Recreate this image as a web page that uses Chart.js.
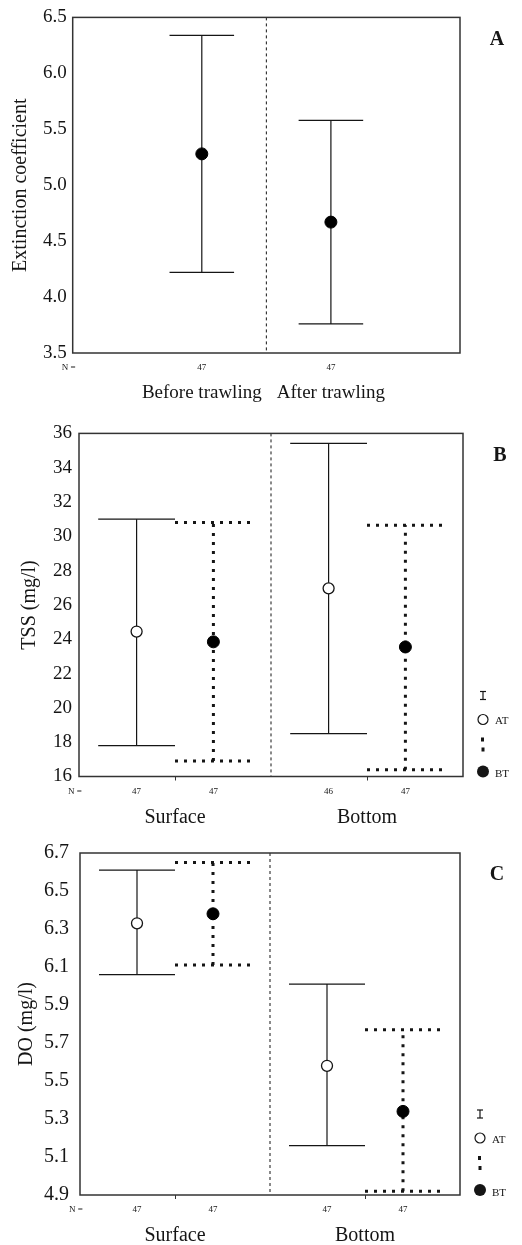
<!DOCTYPE html>
<html>
<head>
<meta charset="utf-8">
<script src="https://cdn.jsdelivr.net/npm/chart.js@4"></script>
<style>
  body { margin: 0; background: #fff; }
  #wrap { position: relative; width: 522px; height: 1245px; }
  canvas { position: absolute; left: 0; }
</style>
</head>
<body>
<div id="wrap">
  <canvas id="chartA" width="522" height="410" style="top:0px"></canvas>
  <canvas id="chartB" width="522" height="415" style="top:415px"></canvas>
  <canvas id="chartC" width="522" height="415" style="top:830px"></canvas>
</div>
<script>
const SERIF = '"Liberation Serif", "Times New Roman", serif';
const INK = '#151515';

// Panel A - extinction coefficient
const trawlCats = ['Before trawling', 'After trawling'];
const extN = [47, 47];
const extMean = [5.28, 4.67];
const extLow = [4.22, 3.76];
const extHigh = [6.34, 5.58];
const yTicksA = [3.5, 4.0, 4.5, 5.0, 5.5, 6.0, 6.5];

// Panels B and C share the depth groups
const depths = ['Surface', 'Bottom'];

// Panel B - TSS (mg/l)
const tssAT = [24.45, 26.97];
const tssATLow = [17.8, 18.5];
const tssATHigh = [31.0, 35.42];
const tssBT = [23.85, 23.55];
const tssBTLow = [16.9, 16.4];
const tssBTHigh = [30.8, 30.65];
const tssNAT = [47, 46];
const tssNBT = [47, 47];
const yTicksB = [16, 18, 20, 22, 24, 26, 28, 30, 32, 34, 36];

// Panel C - DO (mg/l)
const doAT = [6.33, 5.58];
const doATLow = [6.06, 5.16];
const doATHigh = [6.61, 6.01];
const doBT = [6.38, 5.34];
const doBTLow = [6.11, 4.92];
const doBTHigh = [6.65, 5.77];
const doNAT = [47, 47];
const doNBT = [47, 47];
const yTicksC = [4.9, 5.1, 5.3, 5.5, 5.7, 5.9, 6.1, 6.3, 6.5, 6.7];

// positions on the x axis
const trawlPos = [1, 2];
const depthPos = [1, 3];
const shift = 0.4; // AT left of the group, BT right

function line(ctx, x1, y1, x2, y2) {
  ctx.beginPath(); ctx.moveTo(x1, y1); ctx.lineTo(x2, y2); ctx.stroke();
}

// draws divider, error bars, frame, N labels, panel letter and the little legend
const panelPlugin = {
  id: 'panel',
  beforeDatasetsDraw(chart, args, opts) {
    const { ctx, chartArea: a, scales: { x, y } } = chart;
    ctx.save();
    ctx.strokeStyle = INK;
    ctx.lineWidth = 1;
    ctx.setLineDash([3, 3]);
    const dx = x.getPixelForValue(opts.divider);
    line(ctx, dx, a.top, dx, a.bottom);

    opts.bars.forEach(s => {
      ctx.lineWidth = s.dotted ? 3 : 1.2;
      ctx.setLineDash(s.dotted ? [3, 6] : []);
      s.x.forEach((xv, i) => {
        const px = x.getPixelForValue(xv);
        const lo = y.getPixelForValue(s.low[i]);
        const hi = y.getPixelForValue(s.high[i]);
        const l = x.getPixelForValue(xv - opts.cap);
        const r = x.getPixelForValue(xv + opts.cap);
        line(ctx, px, lo, px, hi);
        line(ctx, l, hi, r, hi);
        line(ctx, l, lo, r, lo);
      });
    });
    ctx.restore();
  },
  afterDraw(chart, args, opts) {
    const { ctx, chartArea: a, scales: { x } } = chart;
    ctx.save();
    ctx.strokeStyle = '#333';
    ctx.lineWidth = 1.5;
    ctx.strokeRect(a.left, a.top, a.right - a.left, a.bottom - a.top);

    ctx.fillStyle = INK;
    ctx.font = '9px ' + SERIF;
    ctx.textAlign = 'center';
    ctx.textBaseline = 'middle';
    ctx.fillText('N =', a.left - 4, a.bottom + 15);
    opts.counts.forEach(c => {
      c.n.forEach((n, i) => ctx.fillText(String(n), x.getPixelForValue(c.x[i]), a.bottom + 15));
    });

    ctx.font = 'bold 20px ' + SERIF;
    ctx.fillText(opts.letter, a.right + 37, a.top + 22);

    if (opts.legend) {
      const lx = a.right + 20;
      ctx.lineWidth = 1.2;
      ctx.strokeStyle = INK;
      line(ctx, lx, a.bottom - 85, lx, a.bottom - 77);
      line(ctx, lx - 3, a.bottom - 85, lx + 3, a.bottom - 85);
      line(ctx, lx - 3, a.bottom - 77, lx + 3, a.bottom - 77);
      ctx.beginPath(); ctx.arc(lx, a.bottom - 57, 5, 0, Math.PI * 2); ctx.stroke();
      ctx.fillRect(lx - 2, a.bottom - 39, 3, 4);
      ctx.fillRect(lx - 1.5, a.bottom - 29, 3, 4);
      ctx.beginPath(); ctx.arc(lx, a.bottom - 5, 6, 0, Math.PI * 2); ctx.fill();
      ctx.font = '11px ' + SERIF;
      ctx.textAlign = 'left';
      ctx.fillText('AT', lx + 12, a.bottom - 55);
      ctx.fillText('BT', lx + 12, a.bottom - 2);
    }
    ctx.restore();
  }
};

function points(pos, off, vals) {
  return vals.map((v, i) => ({ x: pos[i] + off, y: v }));
}

function makeChart(id, cfg) {
  const canvas = document.getElementById(id);
  return new Chart(canvas, {
    type: 'scatter',
    data: { datasets: cfg.datasets },
    plugins: [panelPlugin],
    options: {
      responsive: false,
      animation: false,
      devicePixelRatio: 1,
      layout: { padding: { top: cfg.top, right: 522 - cfg.right, left: 0, bottom: 0 } },
      plugins: {
        legend: { display: false },
        tooltip: { enabled: false },
        panel: cfg.panel
      },
      scales: {
        x: {
          type: 'linear', min: cfg.xMin, max: cfg.xMax,
          afterBuildTicks: s => { s.ticks = cfg.xTicks.map(v => ({ value: v })); },
          afterFit: s => { s.height = canvas.height - cfg.bottom; },
          ticks: {
            callback: (v, i) => cfg.xLabels[i],
            font: { family: SERIF, size: cfg.xFont }, color: INK,
            padding: cfg.xPad, maxRotation: 0, autoSkip: false
          },
          grid: { display: cfg.tickLen > 0, drawOnChartArea: false, drawTicks: cfg.tickLen > 0, tickLength: cfg.tickLen, color: '#333' },
          border: { display: false }
        },
        y: {
          min: cfg.yTicks[0], max: cfg.yTicks[cfg.yTicks.length - 1],
          afterBuildTicks: s => { s.ticks = cfg.yTicks.map(v => ({ value: v })); },
          afterFit: s => { s.width = cfg.left; },
          ticks: {
            callback: v => v.toFixed(cfg.dec),
            font: { family: SERIF, size: cfg.yFont }, color: INK, padding: cfg.yPad
          },
          grid: { display: false, drawTicks: false },
          border: { display: false },
          title: {
            display: true, text: cfg.yTitle, color: INK,
            font: { family: SERIF, size: 20 }, padding: { top: cfg.titlePad, bottom: 0 }
          }
        }
      }
    }
  });
}

const filledPt = { pointRadius: 6, pointBackgroundColor: '#000', pointBorderColor: '#000', pointBorderWidth: 1 };
const openPt = { pointRadius: 5.5, pointBackgroundColor: '#fff', pointBorderColor: INK, pointBorderWidth: 1.3 };

makeChart('chartA', {
  top: 6, right: 460, bottom: 353, left: 72.7,
  xMin: 0, xMax: 3, xTicks: trawlPos, xLabels: trawlCats, xFont: 19, xPad: 29, tickLen: 0,
  yTicks: yTicksA, dec: 1, yFont: 19, yPad: 6, yTitle: 'Extinction coefficient', titlePad: 9,
  datasets: [{ data: points(trawlPos, 0, extMean), ...filledPt }],
  panel: {
    divider: 1.5, cap: 0.25, letter: 'A', legend: false,
    bars: [{ x: trawlPos, low: extLow, high: extHigh, dotted: false }],
    counts: [{ x: trawlPos, n: extN }]
  }
});

const atPos = depthPos.map(p => p - shift);
const btPos = depthPos.map(p => p + shift);

makeChart('chartB', {
  top: 14, right: 463, bottom: 361.5, left: 79,
  xMin: 0, xMax: 4, xTicks: depthPos, xLabels: depths, xFont: 20, xPad: 25, tickLen: 4,
  yTicks: yTicksB, dec: 0, yFont: 19, yPad: 7, yTitle: 'TSS (mg/l)', titlePad: 18,
  datasets: [
    { data: points(depthPos, -shift, tssAT), ...openPt },
    { data: points(depthPos, shift, tssBT), ...filledPt }
  ],
  panel: {
    divider: 2, cap: shift, letter: 'B', legend: true,
    bars: [
      { x: atPos, low: tssATLow, high: tssATHigh, dotted: false },
      { x: btPos, low: tssBTLow, high: tssBTHigh, dotted: true }
    ],
    counts: [{ x: atPos, n: tssNAT }, { x: btPos, n: tssNBT }]
  }
});

makeChart('chartC', {
  top: 15.7, right: 460, bottom: 365, left: 80,
  xMin: 0, xMax: 4, xTicks: depthPos, xLabels: depths, xFont: 20, xPad: 25, tickLen: 4,
  yTicks: yTicksC, dec: 1, yFont: 20, yPad: 11, yTitle: 'DO (mg/l)', titlePad: 15,
  datasets: [
    { data: points(depthPos, -shift, doAT), ...openPt },
    { data: points(depthPos, shift, doBT), ...filledPt }
  ],
  panel: {
    divider: 2, cap: shift, letter: 'C', legend: true,
    bars: [
      { x: atPos, low: doATLow, high: doATHigh, dotted: false },
      { x: btPos, low: doBTLow, high: doBTHigh, dotted: true }
    ],
    counts: [{ x: atPos, n: doNAT }, { x: btPos, n: doNBT }]
  }
});
</script>
</body>
</html>
